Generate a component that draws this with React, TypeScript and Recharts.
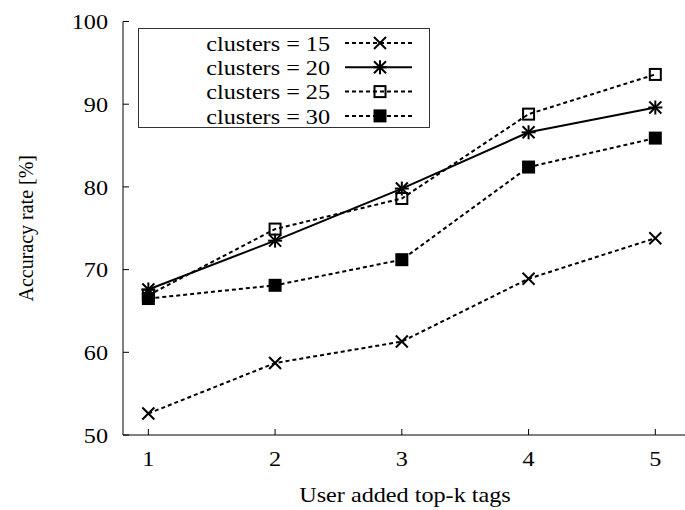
import React from 'react';
import { LineChart, Line, XAxis, YAxis, Legend, Label } from 'recharts';

const topK = [1, 2, 3, 4, 5];
const clusters15 = [52.6, 58.7, 61.3, 68.9, 73.8];
const clusters20 = [67.6, 73.5, 79.8, 86.6, 89.6];
const clusters25 = [66.9, 74.9, 78.6, 88.8, 93.6];
const clusters30 = [66.5, 68.1, 71.2, 82.4, 85.9];
const yTicks = [50, 60, 70, 80, 90, 100];

const data = topK.map((k, i) => ({
  k,
  c15: clusters15[i],
  c20: clusters20[i],
  c25: clusters25[i],
  c30: clusters30[i],
}));

const series = [
  { key: 'c15', name: 'clusters = 15', dash: '4 3', marker: 'x' },
  { key: 'c20', name: 'clusters = 20', dash: undefined, marker: 'star' },
  { key: 'c25', name: 'clusters = 25', dash: '4 3', marker: 'sq' },
  { key: 'c30', name: 'clusters = 30', dash: '4 3', marker: 'fsq' },
];

const font = '"Liberation Serif", "Times New Roman", serif';
// the source figure is a little stretched sideways
const stretch = 1.1;
const textSize = 22;

function Marker({ type, cx, cy }: { type: string; cx: number; cy: number }) {
  const h = 6;
  if (type === 'x') {
    return (
      <g stroke="#000" strokeWidth={2}>
        <line x1={cx - h} y1={cy - h} x2={cx + h} y2={cy + h} />
        <line x1={cx - h} y1={cy + h} x2={cx + h} y2={cy - h} />
      </g>
    );
  }
  if (type === 'star') {
    return (
      <g stroke="#000" strokeWidth={2}>
        <line x1={cx - h} y1={cy - h} x2={cx + h} y2={cy + h} />
        <line x1={cx - h} y1={cy + h} x2={cx + h} y2={cy - h} />
        <line x1={cx} y1={cy - h - 1} x2={cx} y2={cy + h + 1} />
        <line x1={cx - h - 1} y1={cy} x2={cx + h + 1} y2={cy} />
      </g>
    );
  }
  if (type === 'sq') {
    return <rect x={cx - 5.5} y={cy - 5.5} width={11} height={11} fill="none" stroke="#000" strokeWidth={2} />;
  }
  return <rect x={cx - 6.5} y={cy - 6.5} width={13} height={13} fill="#000" />;
}

function WideText({ x, y, anchor, dy, children }: any) {
  return (
    <text
      x={0}
      y={0}
      dy={dy}
      transform={`translate(${x},${y}) scale(${stretch},1)`}
      textAnchor={anchor}
      fontFamily={font}
      fontSize={textSize}
      fill="#000"
    >
      {children}
    </text>
  );
}

function XTick(props: any) {
  return (
    <WideText x={props.x} y={props.y - 1} anchor="middle" dy="0.71em">
      {props.payload.value}
    </WideText>
  );
}

function YTick(props: any) {
  return (
    <WideText x={props.x} y={props.y} anchor="end" dy="0.355em">
      {props.payload.value}
    </WideText>
  );
}

function XTitle(props: any) {
  const vb = props.viewBox;
  return (
    <WideText x={vb.x + vb.width / 2} y={502} anchor="middle">
      User added top-k tags
    </WideText>
  );
}

function YTitle(props: any) {
  const vb = props.viewBox;
  const cy = vb.y + vb.height / 2;
  return (
    <text
      x={0}
      y={0}
      dy="0.355em"
      transform={`translate(25,${cy}) scale(${stretch},1) rotate(-90)`}
      textAnchor="middle"
      fontFamily={font}
      fontSize={20}
      fill="#000"
    >
      Accuracy rate [%]
    </text>
  );
}

function renderLegend(props: any) {
  const items = props.payload || [];
  return (
    <svg width={290} height={98} style={{ display: 'block', border: '1px solid #333', background: '#fff' }}>
      {items.map((item: any, i: number) => {
        const s = series.find((d) => d.key === item.dataKey) || series[i];
        const y = 14 + i * 24.3;
        return (
          <g key={s.key}>
            <WideText x={191} y={y} anchor="end" dy="0.355em">
              {item.value}
            </WideText>
            <line x1={206} x2={273} y1={y} y2={y} stroke="#000" strokeWidth={2} strokeDasharray={s.dash} />
            <Marker type={s.marker} cx={241} cy={y} />
          </g>
        );
      })}
    </svg>
  );
}

export default function App() {
  return (
    <div style={{ position: 'absolute', left: 0, top: 0, fontFamily: font }}>
      <LineChart width={700} height={510} data={data} margin={{ top: 21.5, right: 13, bottom: 0, left: 0 }}>
        <XAxis
          dataKey="k"
          type="number"
          domain={[0.8, 5.25]}
          ticks={topK}
          interval={0}
          allowDataOverflow
          height={75}
          tickSize={-6}
          tickMargin={22}
          stroke="#000"
          tick={XTick}
        >
          <Label content={XTitle} />
        </XAxis>
        <XAxis
          xAxisId="top"
          orientation="top"
          dataKey="k"
          type="number"
          domain={[0.8, 5.25]}
          ticks={topK}
          interval={0}
          allowDataOverflow
          height={0}
          tickSize={-6}
          tick={false}
          stroke="#000"
        />
        <YAxis
          type="number"
          domain={[50, 100]}
          ticks={yTicks}
          interval={0}
          width={123}
          tickSize={-6}
          tickMargin={21}
          stroke="#000"
          tick={YTick}
        >
          <Label content={YTitle} />
        </YAxis>
        <Legend
          verticalAlign="middle"
          align="center"
          layout="horizontal"
          content={renderLegend}
          wrapperStyle={{ position: 'absolute', left: 138, top: 28, width: 292, height: 100 }}
        />
        {series.map((s) => (
          <Line
            key={s.key}
            dataKey={s.key}
            name={s.name}
            type="linear"
            stroke="#000"
            strokeWidth={2}
            strokeDasharray={s.dash}
            isAnimationActive={false}
            activeDot={false}
            dot={(p: any) => <Marker key={`${s.key}-${p.index}`} type={s.marker} cx={p.cx} cy={p.cy} />}
          />
        ))}
      </LineChart>
    </div>
  );
}
